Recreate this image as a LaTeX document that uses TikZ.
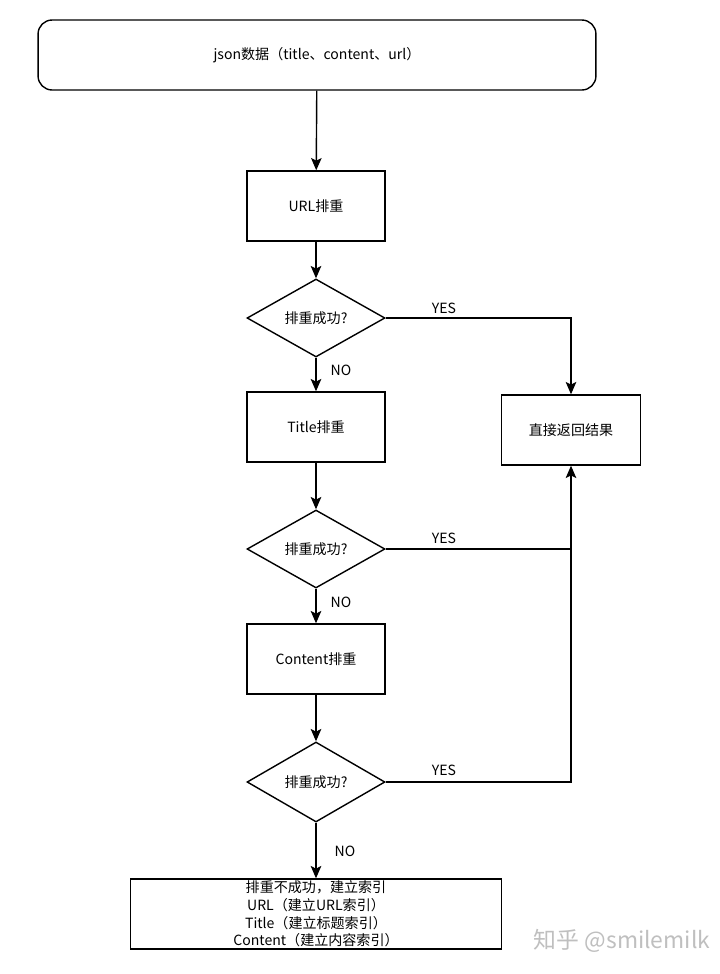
\documentclass[tikz,border=0pt]{standalone}
\usepackage{fontspec}
\setmainfont{Noto Sans CJK SC}
\usetikzlibrary{shapes.geometric,arrows.meta}

\tikzset{
  flow/.style={draw, line width=0.8pt, minimum width=2.76cm, minimum height=1.4cm,
    font=\fontsize{8}{10}\selectfont, align=center},
  check/.style={flow, diamond, inner sep=0pt, minimum height=1.56cm},
  link/.style={line width=0.8pt, -{Stealth[length=7pt,width=6pt,inset=1.5pt]}},
  tag/.style={font=\fontsize{8}{10}\selectfont}
}

\begin{document}
\begin{tikzpicture}[x=0.02cm, y=-0.02cm]
\useasboundingbox (0,0) rectangle (720,974);
% boxes
\node[flow, rounded corners=8pt, minimum width=11.16cm] (json) at (317,55)
  {json数据（title、content、url）};
\node[flow] (url) at (316,206) {URL排重};
\node[check] (d1) at (316,318) {排重成功?};
\node[flow] (title) at (316,427) {Title排重};
\node[check] (d2) at (316,549) {排重成功?};
\node[flow] (content) at (316,659) {Content排重};
\node[check, minimum height=1.6cm] (d3) at (316,782) {排重成功?};
\node[flow, minimum width=2.78cm] (result) at (571,430) {直接返回结果};
\node[flow, minimum width=7.42cm, inner sep=1pt] (final) at (316,914)
  {排重不成功，建立索引\\URL（建立URL索引）\\Title（建立标题索引）\\Content（建立内容索引）};
\coordinate (join) at (571,549);
% arrows
\draw[link] (json) -- (url);
\draw[link] (url) -- (d1);
\draw[link] (d1) -- (title);
\draw[link] (title) -- (d2);
\draw[link] (d2) -- (content);
\draw[link] (content) -- (d3);
\draw[link] (d3) -- (final);
\draw[link] (d1.east) -| (result.north);
\draw[line width=0.8pt] (d2.east) -- (join);
\draw[link] (join) -- (result.south);
\draw[line width=0.8pt] (d3.east) -| (join);
% labels
\node[tag] (yes1) at (444,308) {YES};
\node[tag] (yes2) at (444,538) {YES};
\node[tag] (yes3) at (444,770) {YES};
\node[tag] (no1) at (341,370) {NO};
\node[tag] (no2) at (341,602) {NO};
\node[tag] (no3) at (345,851) {NO};
\node[text=black!25, font=\fontsize{13}{15}\selectfont] (mark) at (622,941) {知乎 @smilemilk};
\end{tikzpicture}
\end{document}
